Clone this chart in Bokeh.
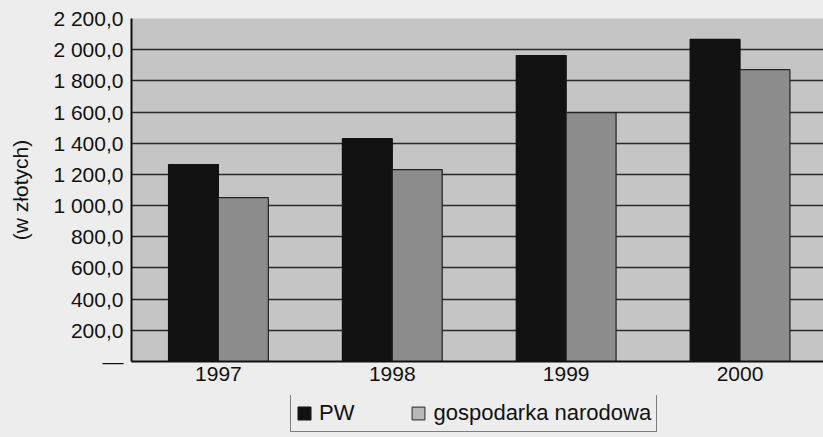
from bokeh.plotting import figure
from bokeh.layouts import column
from bokeh.models import Range1d, FixedTicker, Legend, LegendItem, ColumnDataSource
from bokeh.embed import file_html
from bokeh.resources import INLINE

years = [1997, 1998, 1999, 2000]
year_labels = ["1997", "1998", "1999", "2000"]
pw = [1263, 1429, 1962, 2066]
gosp = [1051, 1231, 1596, 1872]
series_names = ["PW", "gospodarka narodowa"]
y_ticks = [0, 200, 400, 600, 800, 1000, 1200, 1400, 1600, 1800, 2000, 2200]
y_tick_labels = ["—", "200,0", "400,0", "600,0", "800,0", "1 000,0", "1 200,0",
                 "1 400,0", "1 600,0", "1 800,0", "2 000,0", "2 200,0"]

FONT = "Liberation Sans"
FS = "21px"
BG = "#ededed"
PW_COLOR = "#121212"
GOSP_COLOR = "#8c8c8c"

p = figure(width=823, height=395, output_backend="svg", toolbar_location=None,
           x_range=Range1d(1996.5, 2000.48), y_range=Range1d(0, 2200),
           min_border_left=131, min_border_top=18, min_border_right=0, min_border_bottom=34)

p.background_fill_color = "#c5c5c5"
p.border_fill_color = BG
p.outline_line_color = None
p.styles = {"background-color": BG}

bw = 0.287
off = bw / 2
src = ColumnDataSource(dict(x1=[y - off for y in years], x2=[y + off for y in years],
                            pw=pw, gosp=gosp))
p.vbar(x="x1", top="pw", width=bw, source=src, fill_color=PW_COLOR,
       line_color="#111111", line_width=1.2)
p.vbar(x="x2", top="gosp", width=bw, source=src, fill_color=GOSP_COLOR,
       line_color="#222222", line_width=1.2)

p.xaxis.ticker = FixedTicker(ticks=years)
p.xaxis.major_label_overrides = {y: l for y, l in zip(years, year_labels)}
p.yaxis.ticker = FixedTicker(ticks=y_ticks)
p.yaxis.major_label_overrides = {t: l for t, l in zip(y_ticks, y_tick_labels)}

for ax in (p.xaxis[0], p.yaxis[0]):
    ax.major_label_text_font = FONT
    ax.major_label_text_font_size = FS
    ax.major_label_text_color = "#111111"
    ax.major_tick_out = 0
    ax.major_tick_in = 0
    ax.minor_tick_out = 0
    ax.minor_tick_in = 0
    ax.axis_line_color = "#111111"
    ax.axis_line_width = 2

p.xaxis.major_label_standoff = 5
p.yaxis.major_label_standoff = 8
p.yaxis.axis_label = "(w złotych)"
p.yaxis.axis_label_text_font = FONT
p.yaxis.axis_label_text_font_size = FS
p.yaxis.axis_label_text_font_style = "normal"
p.yaxis.axis_label_text_color = "#111111"
p.yaxis.axis_label_standoff = 18

p.xgrid.grid_line_color = None
p.ygrid.grid_line_color = "#2a2a2a"
p.ygrid.grid_line_width = 1.5

# legend strip below the chart (frame aligned with the chart's frame)
lf = figure(width=823, height=42, output_backend="svg", toolbar_location=None,
            x_range=Range1d(0, 1), y_range=Range1d(0, 1),
            min_border_left=131, min_border_right=0, min_border_top=0, min_border_bottom=0)
lf.axis.visible = False
lf.grid.visible = False
lf.outline_line_color = None
lf.background_fill_color = BG
lf.border_fill_color = BG
lf.styles = {"background-color": BG}
# proxy glyphs for the legend swatches, hidden underneath the legend box
e1 = lf.vbar(x=[0.4], top=[0.6], bottom=[0.4], width=0.01, fill_color=PW_COLOR,
             line_color="#111111", line_width=1.2)
e2 = lf.vbar(x=[0.4], top=[0.6], bottom=[0.4], width=0.01, fill_color="#b8b8b8",
             line_color="#444444", line_width=1.2)

legend = Legend(items=[LegendItem(label=series_names[0], renderers=[e1]),
                       LegendItem(label=series_names[1], renderers=[e2])],
                orientation="horizontal", location=(159, 5))
legend.label_text_font = FONT
legend.label_text_font_size = "22px"
legend.label_text_color = "#111111"
legend.border_line_color = "#111111"
legend.border_line_width = 1.5
legend.background_fill_color = BG
legend.background_fill_alpha = 1
legend.glyph_width = 16
legend.glyph_height = 16
legend.label_standoff = 7
legend.spacing = 56
legend.padding = 5
legend.margin = 0
legend.label_height = 20
lf.add_layout(legend, "center")

layout = column(p, lf, spacing=0, styles={"background-color": BG})
open("out.html", "w").write(file_html(layout, INLINE))
